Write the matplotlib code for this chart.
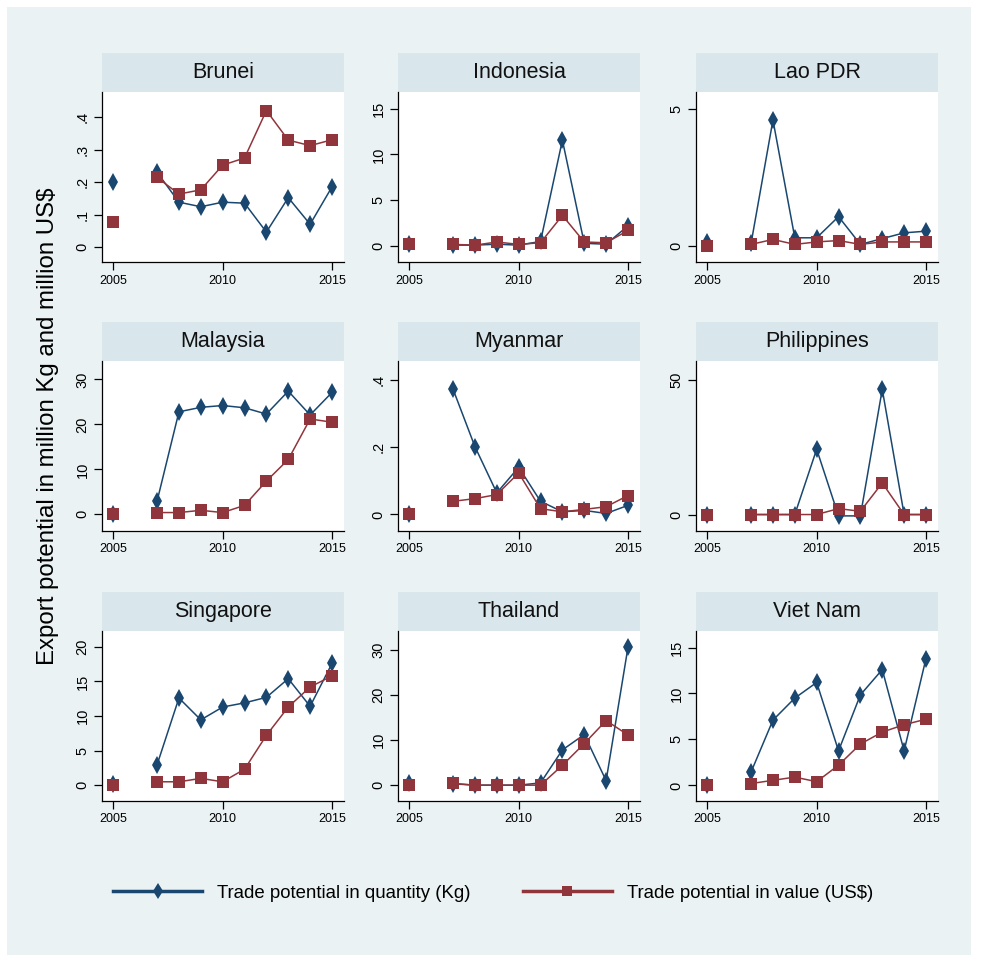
import numpy as np
import matplotlib
matplotlib.use("Agg")
import matplotlib.pyplot as plt
from matplotlib.patches import Rectangle
from matplotlib.lines import Line2D

plt.rcParams['font.family'] = ['Liberation Sans', 'DejaVu Sans']

nan = np.nan
years = [2005, 2006, 2007, 2008, 2009, 2010, 2011, 2012, 2013, 2014, 2015]

countries = ["Brunei", "Indonesia", "Lao PDR", "Malaysia", "Myanmar",
             "Philippines", "Singapore", "Thailand", "Viet Nam"]

# trade potential in quantity (million Kg)
brunei_qty = [0.20, nan, 0.23, 0.138, 0.124, 0.138, 0.135, 0.046, 0.152, 0.070, 0.185]
indonesia_qty = [0.2, nan, 0.1, 0.1, 0.2, 0.1, 0.5, 11.55, 0.3, 0.2, 2.2]
lao_qty = [0.15, nan, 0.1, 4.58, 0.3, 0.3, 1.07, 0.06, 0.27, 0.48, 0.54]
malaysia_qty = [0.0, nan, 2.95, 22.8, 23.8, 24.2, 23.7, 22.3, 27.4, 22.1, 27.1]
myanmar_qty = [0.0, nan, 0.371, 0.201, 0.064, 0.14, 0.039, 0.008, 0.012, 0.003, 0.027]
philippines_qty = [0.0, nan, 0.0, 0.0, 0.0, 24.2, -0.5, -0.5, 46.4, 0.0, 0.0]
singapore_qty = [0.2, nan, 2.95, 12.6, 9.44, 11.3, 11.9, 12.7, 15.4, 11.4, 17.6]
thailand_qty = [0.5, nan, 0.3, 0.0, 0.0, 0.0, 0.5, 7.8, 11.2, 1.0, 30.5]
vietnam_qty = [0.0, nan, 1.46, 7.1, 9.5, 11.2, 3.76, 9.85, 12.6, 3.76, 13.8]

# trade potential in value (million US$)
brunei_val = [0.077, nan, 0.214, 0.163, 0.176, 0.252, 0.274, 0.42, 0.329, 0.312, 0.33]
indonesia_val = [0.18, nan, 0.18, 0.1, 0.44, 0.18, 0.36, 3.34, 0.44, 0.36, 1.7]
lao_val = [0.0, nan, 0.06, 0.24, 0.06, 0.15, 0.2, 0.06, 0.15, 0.15, 0.15]
malaysia_val = [0.0, nan, 0.4, 0.4, 0.9, 0.4, 2.0, 7.4, 12.2, 21.2, 20.5]
myanmar_val = [0.0, nan, 0.039, 0.047, 0.059, 0.123, 0.017, 0.008, 0.015, 0.023, 0.056]
philippines_val = [0.0, nan, 0.0, 0.0, 0.0, 0.0, 2.2, 1.2, 11.7, 0.0, 0.0]
singapore_val = [0.0, nan, 0.48, 0.48, 0.97, 0.48, 2.3, 7.2, 11.3, 14.2, 15.8]
thailand_val = [0.0, nan, 0.4, 0.0, 0.0, 0.0, 0.0, 4.4, 9.2, 14.3, 11.1]
vietnam_val = [0.0, nan, 0.2, 0.55, 0.9, 0.4, 2.2, 4.5, 5.8, 6.6, 7.2]

qty = [brunei_qty, indonesia_qty, lao_qty, malaysia_qty, myanmar_qty,
       philippines_qty, singapore_qty, thailand_qty, vietnam_qty]
val = [brunei_val, indonesia_val, lao_val, malaysia_val, myanmar_val,
       philippines_val, singapore_val, thailand_val, vietnam_val]

y_ticks = [[0, .1, .2, .3, .4], [0, 5, 10, 15], [0, 5], [0, 10, 20, 30], [0, .2, .4],
           [0, 50], [0, 5, 10, 15, 20], [0, 10, 20, 30], [0, 5, 10, 15]]
y_labels = [["0", ".1", ".2", ".3", ".4"], ["0", "5", "10", "15"], ["0", "5"],
            ["0", "10", "20", "30"], ["0", ".2", ".4"], ["0", "50"],
            ["0", "5", "10", "15", "20"], ["0", "10", "20", "30"], ["0", "5", "10", "15"]]
y_lims = [(-0.046, 0.477), (-1.74, 16.8), (-0.58, 5.6), (-3.7, 34.1), (-0.049, 0.455),
          (-6.1, 56.9), (-2.3, 22.3), (-3.5, 34.1), (-1.7, 16.8)]

navy = "#1a476f"
maroon = "#90353b"
bg = "#eaf2f3"
strip_col = "#d9e6eb"

W, H = 981, 961
fig = plt.figure(figsize=(W / 100, H / 100), dpi=100)
fig.patch.set_facecolor("white")
fig.patches.append(Rectangle((7 / W, 1 - 955 / H), (971 - 7) / W, (955 - 7) / H,
                             transform=fig.transFigure, facecolor=bg, edgecolor="none", zorder=-10))

col_left = [102, 398, 696]
row_top = [92, 361, 631]
pw, ph, sh = 242, 170, 39

for k, name in enumerate(countries):
    r, c = divmod(k, 3)
    ax = fig.add_axes([col_left[c] / W, 1 - (row_top[r] + ph) / H, pw / W, ph / H])
    ax.set_facecolor("white")
    ax.plot(years, qty[k], color=navy, lw=1.1, marker="d", ms=9, mew=0, zorder=3)
    ax.plot(years, val[k], color=maroon, lw=1.1, marker="s", ms=8, mew=0, zorder=4)
    ax.set_xlim(2004.48, 2015.55)
    ax.set_ylim(*y_lims[k])
    ax.set_xticks([2005, 2010, 2015])
    ax.set_yticks(y_ticks[k])
    ax.set_yticklabels(y_labels[k], rotation=90, va="center")
    ax.tick_params(axis="both", length=6, width=0.9, direction="out", pad=3)
    ax.tick_params(axis="x", labelsize=9)
    ax.tick_params(axis="y", labelsize=10.5)
    for s in ["top", "right"]:
        ax.spines[s].set_visible(False)
    for s in ["left", "bottom"]:
        ax.spines[s].set_linewidth(0.9)
    ax.add_patch(Rectangle((0, 1), 1, sh / ph, transform=ax.transAxes,
                           facecolor=strip_col, edgecolor="none", clip_on=False))
    ax.text(0.5, 1 + sh / ph / 2, name, transform=ax.transAxes, ha="center", va="center",
            fontsize=15.5, color="#111111")

fig.text(48 / W, 1 - 426 / H, "Export potential in million Kg and million US$",
         rotation=90, ha="center", va="center", fontsize=17.3)

handles = [Line2D([], [], color=navy, lw=2.5, marker="d", ms=8, mew=0),
           Line2D([], [], color=maroon, lw=2.5, marker="s", ms=7.5, mew=0)]
fig.legend(handles, ["Trade potential in quantity (Kg)", "Trade potential in value (US$)"],
           loc="center", bbox_to_anchor=(493 / W, 1 - 893 / H), ncol=2, frameon=False,
           fontsize=13.4, handlelength=4.8, handletextpad=0.8, columnspacing=2.8)

fig.savefig("out.png", dpi=100, facecolor=fig.get_facecolor())
